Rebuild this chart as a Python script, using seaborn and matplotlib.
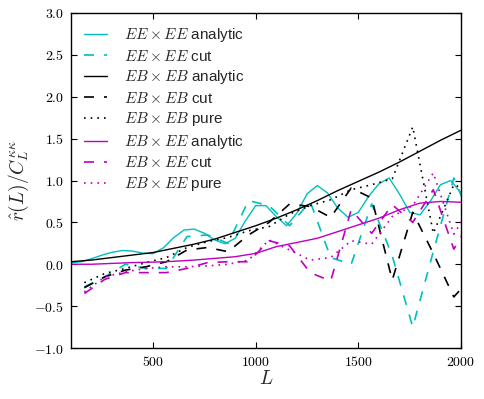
import matplotlib
matplotlib.use("Agg")
import matplotlib.pyplot as plt
import seaborn as sns
import numpy as np

# ---- data ----
L_fine = [100, 150, 200, 250, 300, 350, 400, 450, 500, 550, 600, 650, 700, 750,
          800, 850, 900, 950, 1000, 1050, 1100, 1150, 1200, 1250, 1300, 1350,
          1400, 1450, 1500, 1550, 1600, 1650, 1700, 1750, 1800, 1850, 1900,
          1950, 2000]
ee_analytic = [0.02, 0.03, 0.066, 0.108, 0.143, 0.164, 0.157, 0.133, 0.127, 0.196,
               0.317, 0.408, 0.42, 0.37, 0.29, 0.245, 0.31, 0.52, 0.70, 0.70,
               0.57, 0.46, 0.61, 0.84, 0.94, 0.85, 0.67, 0.56, 0.62, 0.81,
               0.96, 1.03, 0.84, 0.62, 0.59, 0.75, 0.95, 1.00, 0.85]

L_coarse = [100, 200, 300, 400, 500, 600, 700, 800, 900, 1000, 1100, 1200,
            1300, 1400, 1500, 1600, 1700, 1800, 1900, 2000]
ebeb_analytic = [0.03, 0.05, 0.08, 0.11, 0.14, 0.19, 0.24, 0.30, 0.38, 0.46,
                 0.55, 0.65, 0.76, 0.88, 0.99, 1.10, 1.22, 1.35, 1.48, 1.60]
ebee_analytic = [0.0, 0.0, 0.01, 0.02, 0.025, 0.035, 0.05, 0.07, 0.09, 0.13,
                 0.21, 0.26, 0.31, 0.39, 0.47, 0.55, 0.65, 0.73, 0.75, 0.74]

L_bins = [165, 265, 365, 465, 565, 665, 765, 865, 965, 1065, 1165, 1265,
          1365, 1465, 1565, 1665, 1765, 1865, 1965, 2065]
ee_cut = [-0.27, -0.15, 0.0, -0.05, -0.05, 0.33, 0.35, 0.25, 0.76, 0.70,
          0.46, 0.75, 0.08, 0.0, 0.72, 0.10, -0.75, 0.15, 1.03, 0.45]
ebeb_cut = [-0.28, -0.15, -0.07, -0.03, 0.03, 0.17, 0.20, 0.15, 0.35, 0.50,
            0.72, 0.69, 0.56, 0.91, 0.79, -0.19, 0.62, 0.13, -0.39, -0.12]
ebeb_pure = [-0.22, -0.11, -0.05, 0.02, 0.08, 0.20, 0.27, 0.32, 0.40, 0.45,
             0.60, 0.70, 0.77, 0.89, 0.95, 1.02, 1.64, 0.37, 0.95, 0.85]
ebee_cut = [-0.35, -0.18, -0.10, -0.10, -0.10, -0.05, 0.02, 0.03, 0.03, 0.28,
            0.22, -0.10, -0.20, 0.65, 0.37, 0.71, 0.50, 0.89, 0.18, 0.60]
ebee_pure = [-0.33, -0.15, -0.09, -0.05, -0.03, -0.03, -0.02, 0.0, 0.05, 0.29,
             0.17, 0.05, 0.08, 0.28, 0.24, 0.57, 0.70, 1.09, 0.36, 0.75]

labels = [r"$EE\times EE$ analytic", r"$EE\times EE$ cut",
          r"$EB\times EB$ analytic", r"$EB\times EB$ cut",
          r"$EB\times EB$ pure", r"$EB\times EE$ analytic",
          r"$EB\times EE$ cut", r"$EB\times EE$ pure"]

xticks = [500, 1000, 1500, 2000]
xtick_labels = ["500", "1000", "1500", "2000"]
yticks = [-1.0, -0.5, 0.0, 0.5, 1.0, 1.5, 2.0, 2.5, 3.0]
ytick_labels = ["-1.0", "-0.5", "0.0", "0.5", "1.0", "1.5", "2.0", "2.5", "3.0"]

# ---- style ----
sns.set_style("ticks")
plt.rcParams["mathtext.fontset"] = "cm"
plt.rcParams["font.family"] = ["Liberation Sans", "DejaVu Sans"]

fig = plt.figure(figsize=(4.84, 3.99), dpi=100)
ax = fig.add_axes([71/484, 1-348/399, 390/484, 335/399])

CY = "#00bfbf"
MG = "#bf00bf"
dash = (0, (6, 6))
dot = (0, (1, 3))

series = [
    (L_fine, ee_analytic, CY, "-", 1.0),
    (L_bins, ee_cut, CY, dash, 1.2),
    (L_coarse, ebeb_analytic, "black", "-", 1.0),
    (L_bins, ebeb_cut, "black", dash, 1.2),
    (L_bins, ebeb_pure, "black", dot, 1.2),
    (L_coarse, ebee_analytic, MG, "-", 1.0),
    (L_bins, ebee_cut, MG, dash, 1.2),
    (L_bins, ebee_pure, MG, dot, 1.2),
]
for (xs, ys, c, ls, lw), lab in zip(series, labels):
    sns.lineplot(x=xs, y=ys, ax=ax, color=c, linestyle=ls, linewidth=lw,
                 label=lab, sort=False, estimator=None)

ax.set_xlim(100, 2000)
ax.set_ylim(-1.0, 3.0)
ax.set_xticks(xticks)
ax.set_xticklabels(["$" + t + "$" for t in xtick_labels], fontsize=10)
ax.set_yticks(yticks)
ax.set_yticklabels(["$" + t + "$" for t in ytick_labels], fontsize=10)
ax.tick_params(direction="in", length=4, width=0.8, top=True, right=True,
               pad=5, colors="black")
for s in ax.spines.values():
    s.set_linewidth(1.0)
    s.set_color("black")

ax.set_xlabel(r"$L$", fontsize=14, labelpad=1)
ax.set_ylabel(r"$\hat{r}(L)/C_L^{\kappa\kappa}$", fontsize=14, labelpad=2)

leg = ax.legend(loc="upper left", frameon=False, fontsize=11,
                handlelength=1.5, handletextpad=1.1, labelspacing=0.3,
                borderaxespad=0.45, borderpad=0.4)

fig.savefig("out.png", dpi=100, facecolor="white")
